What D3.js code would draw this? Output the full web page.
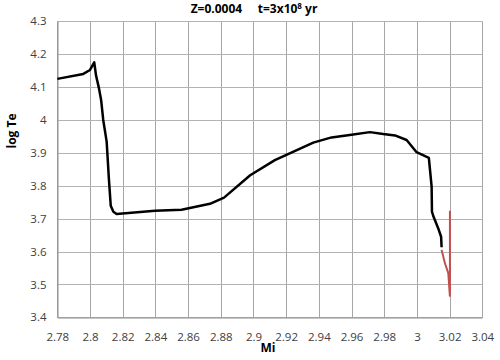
<!DOCTYPE html>
<html>
<head>
<meta charset="utf-8">
<script src="https://cdn.jsdelivr.net/npm/d3@7"></script>
<style>
  body { margin: 0; background: #fff; }
  text { font-family: "Open Sans", "Liberation Sans", sans-serif; }
</style>
</head>
<body>
<svg id="chart" width="500" height="360"></svg>
<script>
// Isochrone track, Z=0.0004, t=3e8 yr
var xTicks = [2.78, 2.8, 2.82, 2.84, 2.86, 2.88, 2.9, 2.92, 2.94, 2.96, 2.98, 3, 3.02, 3.04];
var yTicks = [3.4, 3.5, 3.6, 3.7, 3.8, 3.9, 4, 4.1, 4.2, 4.3];

// black part of the track
var blackMi = [2.78, 2.7959, 2.80, 2.8026, 2.8037, 2.8055, 2.8068, 2.8081, 2.8102, 2.8116,
  2.8127, 2.8143, 2.8163, 2.8398, 2.856, 2.8734, 2.882, 2.898, 2.9131, 2.9366, 2.9478,
  2.96, 2.9712, 2.9794, 2.9866, 2.9937, 2.9998, 3.0073, 3.009, 3.0092, 3.0100, 3.013,
  3.0148, 3.0151];
var blackTe = [4.125, 4.14, 4.152, 4.175, 4.135, 4.096, 4.061, 4.0, 3.934, 3.818,
  3.739, 3.721, 3.714, 3.724, 3.727, 3.745, 3.764, 3.832, 3.878, 3.931, 3.947,
  3.955, 3.963, 3.957, 3.953, 3.939, 3.902, 3.885, 3.797, 3.721, 3.708, 3.671,
  3.645, 3.613];

// red part of the track
var redMi = [3.0151, 3.0171, 3.0192, 3.0202, 3.0202];
var redTe = [3.605, 3.565, 3.534, 3.463, 3.724];

var svg = d3.select("#chart");
var margin = { left: 57.3, right: 17.7, top: 21.3, bottom: 42.7 };
var W = 500, H = 360;

var x = d3.scaleLinear().domain([2.78, 3.04]).range([margin.left, W - margin.right]);
var y = d3.scaleLinear().domain([3.4, 4.3]).range([H - margin.bottom, margin.top]);

// grid
var grid = svg.append("g").attr("class", "grid");
grid.selectAll("line.vx")
  .data(xTicks)
  .enter().append("line")
    .attr("x1", function(d) { return Math.round(x(d)) + 0.5; })
    .attr("x2", function(d) { return Math.round(x(d)) + 0.5; })
    .attr("y1", y(4.3))
    .attr("y2", y(3.4))
    .attr("stroke", "#a6a6a6")
    .attr("stroke-width", 1);
grid.selectAll("line.hy")
  .data(yTicks)
  .enter().append("line")
    .attr("x1", x(2.78))
    .attr("x2", x(3.04))
    .attr("y1", function(d) { return Math.round(y(d)) + 0.5; })
    .attr("y2", function(d) { return Math.round(y(d)) + 0.5; })
    .attr("stroke", "#b3b3b3")
    .attr("stroke-width", 1);

// axes
var xAxis = d3.axisBottom(x).tickValues(xTicks).tickSize(0).tickPadding(15)
  .tickFormat(function(d) { return String(+d.toFixed(2)); });
var yAxis = d3.axisLeft(y).tickValues(yTicks).tickSize(0).tickPadding(11)
  .tickFormat(function(d) { return String(+d.toFixed(1)); });

var gx = svg.append("g")
  .attr("transform", "translate(0," + (Math.round(y(3.4)) + 0.5) + ")")
  .call(xAxis);
var gy = svg.append("g")
  .attr("transform", "translate(" + (Math.round(x(2.78)) + 0.5) + ",0)")
  .call(yAxis);
[gx, gy].forEach(function(g) {
  g.select(".domain").attr("stroke", "#8c8c8c");
  g.selectAll("text")
    .attr("fill", "#404040")
    .style("font-size", "11.5px")
    .style("font-family", "\"Open Sans\", sans-serif");
});

// track lines
var line = d3.line()
  .x(function(d) { return x(d[0]); })
  .y(function(d) { return y(d[1]); });

svg.append("path")
  .datum(d3.zip(blackMi, blackTe))
  .attr("fill", "none")
  .attr("stroke", "#000")
  .attr("stroke-width", 2.5)
  .attr("stroke-linejoin", "round")
  .attr("d", line);

svg.append("path")
  .datum(d3.zip(redMi, redTe))
  .attr("fill", "none")
  .attr("stroke", "#c0504d")
  .attr("stroke-width", 2)
  .attr("stroke-linejoin", "miter")
  .attr("d", line);

// title
var title = svg.append("text")
  .attr("x", 254)
  .attr("y", 13)
  .attr("text-anchor", "middle")
  .style("font-size", "12px")
  .style("font-weight", "bold")
  .attr("fill", "#000");
title.append("tspan").text("Z=0.0004\u00a0\u00a0\u00a0\u00a0 t=3x10");
title.append("tspan").attr("dy", -4).style("font-size", "8px").text("8");
title.append("tspan").attr("dy", 4).text(" yr");

// axis titles
svg.append("text")
  .attr("x", 268)
  .attr("y", 352)
  .attr("text-anchor", "middle")
  .style("font-size", "12px")
  .style("font-weight", "bold")
  .text("Mi");

svg.append("text")
  .attr("transform", "translate(16,131) rotate(-90)")
  .attr("text-anchor", "middle")
  .style("font-size", "12px")
  .style("font-weight", "bold")
  .text("log Te");
</script>
</body>
</html>
